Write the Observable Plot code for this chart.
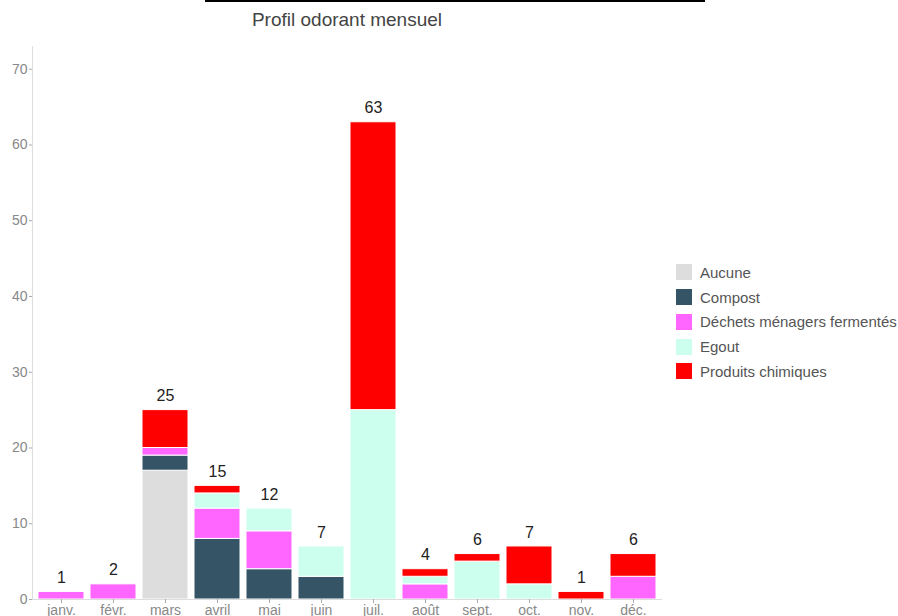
<!DOCTYPE html>
<html>
<head>
<meta charset="utf-8">
<script src="https://cdn.jsdelivr.net/npm/d3@7"></script>
<script src="https://cdn.jsdelivr.net/npm/@observablehq/plot@0.6"></script>
<style>
  html, body { margin: 0; padding: 0; background: #fff; overflow: hidden; }
  body { width: 898px; height: 616px; position: relative; font-family: "Liberation Sans", Arial, sans-serif; }
  #topline { position: absolute; left: 205px; top: 0; width: 500px; height: 0; border-top: 2px solid #000; }
  #title { position: absolute; left: 0; width: 694px; top: 9px; text-align: center; font-size: 19px; color: #444; }
  #chart { position: absolute; left: 0; top: 0; }
  #legend { position: absolute; left: 676px; top: 260px; font-size: 15px; color: #555; }
  .item { display: flex; align-items: center; height: 24.75px; }
  .sw { width: 16px; height: 16px; margin-right: 8px; }
  #chart svg g[aria-label="y-axis tick label"] text { font-size: 14px; }
  #chart svg g[aria-label="x-axis tick label"] text { font-size: 14px; }
  #chart svg g[aria-label="text"] text { font-size: 16px; }
</style>
</head>
<body>
<div id="chart"></div>
<div id="topline"></div>
<div id="title">Profil odorant mensuel</div>
<div id="legend"></div>
<script>
const months = ["janv.", "févr.", "mars", "avril", "mai", "juin", "juil.", "août", "sept.", "oct.", "nov.", "déc."];
const categories = ["Aucune", "Compost", "Déchets ménagers fermentés", "Egout", "Produits chimiques"];
const colors = ["#dddddd", "#355566", "#ff66ff", "#ccffee", "#ff0000"];
const aucune   = [0, 0, 17, 0, 0, 0, 0, 0, 0, 0, 0, 0];
const compost  = [0, 0, 2, 8, 4, 3, 0, 0, 0, 0, 0, 0];
const dechets  = [1, 2, 1, 4, 5, 0, 0, 2, 0, 0, 0, 3];
const egout    = [0, 0, 0, 2, 3, 4, 25, 1, 5, 2, 0, 0];
const produits = [0, 0, 5, 1, 0, 0, 38, 1, 1, 5, 1, 3];
const yTicks = [0, 10, 20, 30, 40, 50, 60, 70];

const series = [aucune, compost, dechets, egout, produits];
const data = [];
months.forEach((m, i) => {
  categories.forEach((c, j) => {
    if (series[j][i] > 0) data.push({month: m, category: c, value: series[j][i]});
  });
});
const totals = months.map((m, i) => ({month: m, total: series.reduce((s, a) => s + a[i], 0)}));

// left axis line drawn at the frame's left edge
function leftAxisLine(index, scales, values, dim) {
  const ns = "http://www.w3.org/2000/svg";
  const line = document.createElementNS(ns, "line");
  const x = dim.marginLeft + 0.5;
  line.setAttribute("x1", x);
  line.setAttribute("x2", x);
  line.setAttribute("y1", dim.marginTop);
  line.setAttribute("y2", dim.height - dim.marginBottom);
  line.setAttribute("stroke", "#ddd");
  return line;
}

const chart = Plot.plot({
  width: 898,
  height: 630,
  marginTop: 46,
  marginBottom: 31,
  marginLeft: 32,
  marginRight: 236,
  style: {fontFamily: "Liberation Sans, Arial, sans-serif", fontSize: "14px", color: "#888", background: "transparent"},
  x: {domain: months, paddingInner: 0.11, paddingOuter: 0.06, label: null},
  y: {domain: [0, 73], label: null},
  color: {domain: categories, range: colors},
  marks: [
    leftAxisLine,
    Plot.barY(data, {x: "month", y: "value", fill: "category", stroke: "#fff", strokeWidth: 1, order: categories}),
    Plot.ruleY([0], {stroke: "#ddd"}),
    Plot.axisY({ticks: yTicks, tickSize: 3, tickPadding: 2, stroke: "#aaa", fill: "#888"}),
    Plot.axisX({tickSize: 4, tickPadding: 2, stroke: "#aaa", fill: "#888"}),
    Plot.text(totals, {x: "month", y: "total", text: d => String(d.total), dy: -14, fill: "#222"})
  ]
});
document.getElementById("chart").appendChild(chart);

const legend = document.getElementById("legend");
categories.forEach((c, j) => {
  const row = document.createElement("div");
  row.className = "item";
  const sw = document.createElement("div");
  sw.className = "sw";
  sw.style.background = colors[j];
  const lab = document.createElement("span");
  lab.textContent = c;
  row.appendChild(sw);
  row.appendChild(lab);
  legend.appendChild(row);
});
</script>
</body>
</html>
